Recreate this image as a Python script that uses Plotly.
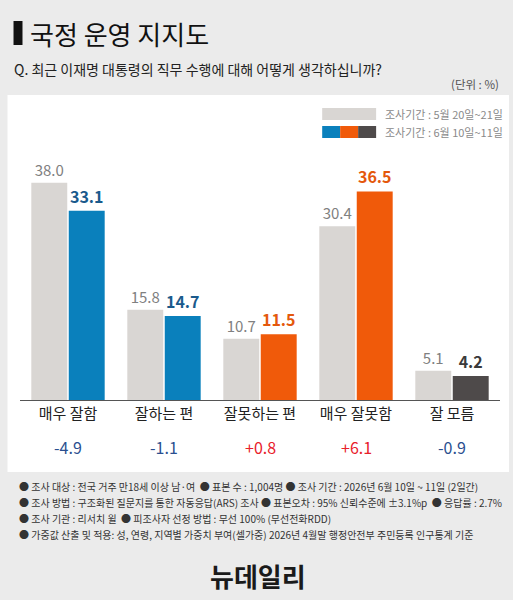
import plotly.graph_objects as go

categories = ["매우 잘함", "잘하는 편", "잘못하는 편", "매우 잘못함", "잘 모름"]
prev_values = [38.0, 15.8, 10.7, 30.4, 5.1]
curr_values = [33.1, 14.7, 11.5, 36.5, 4.2]
diff_labels = ["-4.9", "-1.1", "+0.8", "+6.1", "-0.9"]
prev_label = "조사기간 : 5월 20일~21일"
curr_label = "조사기간 : 6월 10일~11일"

W, H = 513, 600
L, R, T, B = 19.5, 13, 160, 200
PW, PH = W - L - R, H - T - B
FONT = "Noto Sans CJK KR"


def px(x):
    return (x - L) / PW


def py(y):
    return (H - B - y) / PH


BLUE, ORANGE, DARK, GRAY = "#0a80bc", "#f05a0a", "#4e4a4a", "#d9d6d3"
curr_colors = [BLUE, BLUE, ORANGE, ORANGE, DARK]
curr_text_colors = ["#1a5a8c", "#1a5a8c", "#e4580c", "#e4580c", "#3a3a3a"]
diff_colors = ["#2a4f8f", "#2a4f8f", "#e8202a", "#e8202a", "#2a4f8f"]

fig = go.Figure()
fig.add_bar(
    x=categories, y=prev_values, marker_color=GRAY, marker_line_width=0,
    text=[f"{v:.1f}" for v in prev_values], textposition="outside",
    textfont=dict(size=15, color="#808080", family=FONT), cliponaxis=False,
    name=prev_label, showlegend=False,
)
fig.add_bar(
    x=categories, y=curr_values, marker_color=curr_colors, marker_line_width=0,
    text=[f"<b>{v:.1f}</b>" for v in curr_values], textposition="outside",
    textfont=dict(size=16, color=curr_text_colors, family=FONT), cliponaxis=False,
    name=curr_label, showlegend=False,
)

shapes = []
# white panel
shapes.append(dict(type="rect", xref="paper", yref="paper",
                   x0=px(7), x1=px(509), y0=py(472), y1=py(95),
                   fillcolor="white", line_width=0, layer="below"))
# title bar
shapes.append(dict(type="rect", xref="paper", yref="paper",
                   x0=px(13), x1=px(22), y0=py(45), y1=py(21),
                   fillcolor="#111", line_width=0))
# legend swatches
shapes.append(dict(type="rect", xref="paper", yref="paper",
                   x0=px(322), x1=px(376), y0=py(120), y1=py(108),
                   fillcolor=GRAY, line_width=0))
for c, (a, b) in zip([BLUE, ORANGE, DARK], [(322, 340), (340, 358), (358, 376)]):
    shapes.append(dict(type="rect", xref="paper", yref="paper",
                       x0=px(a), x1=px(b), y0=py(138), y1=py(126),
                       fillcolor=c, line_width=0))

annotations = []
annotations.append(dict(text="국정 운영 지지도", xref="paper", yref="paper",
                        x=px(28), y=py(33), xanchor="left", yanchor="middle",
                        showarrow=False, font=dict(size=26, color="#111", family=FONT)))
annotations.append(dict(text="Q. 최근 이재명 대통령의 직무 수행에 대해 어떻게 생각하십니까?",
                        xref="paper", yref="paper", x=px(11), y=py(69),
                        xanchor="left", yanchor="middle", showarrow=False,
                        font=dict(size=14, color="#222", family=FONT)))
annotations.append(dict(text="(단위 : %)", xref="paper", yref="paper", x=px(501), y=py(84),
                        xanchor="right", yanchor="middle", showarrow=False,
                        font=dict(size=11.5, color="#555", family=FONT)))
annotations.append(dict(text=prev_label, xref="paper", yref="paper", x=px(383), y=py(114),
                        xanchor="left", yanchor="middle", showarrow=False,
                        font=dict(size=11, color="#8a8a8a", family=FONT)))
annotations.append(dict(text=curr_label, xref="paper", yref="paper", x=px(383), y=py(132),
                        xanchor="left", yanchor="middle", showarrow=False,
                        font=dict(size=11, color="#8a8a8a", family=FONT)))
for cat, d, c in zip(categories, diff_labels, diff_colors):
    annotations.append(dict(text=d, xref="x", yref="paper", x=cat, y=py(447),
                            xanchor="center", yanchor="middle", showarrow=False,
                            font=dict(size=16, color=c, family=FONT)))

notes = [
    "● 조사 대상 : 전국 거주 만18세 이상 남·여  ● 표본 수 : 1,004명 ● 조사 기간 : 2026년 6월 10일 ~ 11일 (2일간)",
    "● 조사 방법 : 구조화된 질문지를 통한 자동응답(ARS) 조사 ● 표본오차 : 95% 신뢰수준에 ±3.1%p  ● 응답률 : 2.7%",
    "● 조사 기관 : 리서치 윌  ● 피조사자 선정 방법 : 무선 100% (무선전화RDD)",
    "● 가중값 산출 및 적용: 성, 연령, 지역별 가중치 부여(셀가중) 2026년 4월말 행정안전부 주민등록 인구통계 기준",
]
for i, n in enumerate(notes):
    annotations.append(dict(text=n, xref="paper", yref="paper", x=px(16), y=py(486 + i * 16.3),
                            xanchor="left", yanchor="middle", showarrow=False,
                            font=dict(size=10, color="#333", family=FONT)))
annotations.append(dict(text="<b>뉴데일리</b>", xref="paper", yref="paper", x=px(258), y=py(575),
                        xanchor="center", yanchor="middle", showarrow=False,
                        font=dict(size=26, color="#1a1a1a", family=FONT)))

fig.update_layout(
    width=W, height=H,
    margin=dict(l=L, r=R, t=T, b=B, pad=0),
    paper_bgcolor="#ebebeb", plot_bgcolor="rgba(0,0,0,0)",
    barmode="group", bargap=0.22, bargroupgap=0.04,
    shapes=shapes, annotations=annotations,
    font=dict(family=FONT),
)
fig.update_xaxes(range=[-0.5, 4.5], showline=True, linecolor="#555", linewidth=1,
                 ticks="", tickfont=dict(size=15, color="#222", family=FONT),
                 showgrid=False, zeroline=False)
fig.update_yaxes(range=[0, 42], visible=False, showgrid=False, zeroline=False)

fig.write_html(
    "out.html",
    config={"displayModeBar": False},
    post_script="document.body.style.margin='0';document.body.style.background='#ebebeb';",
)
